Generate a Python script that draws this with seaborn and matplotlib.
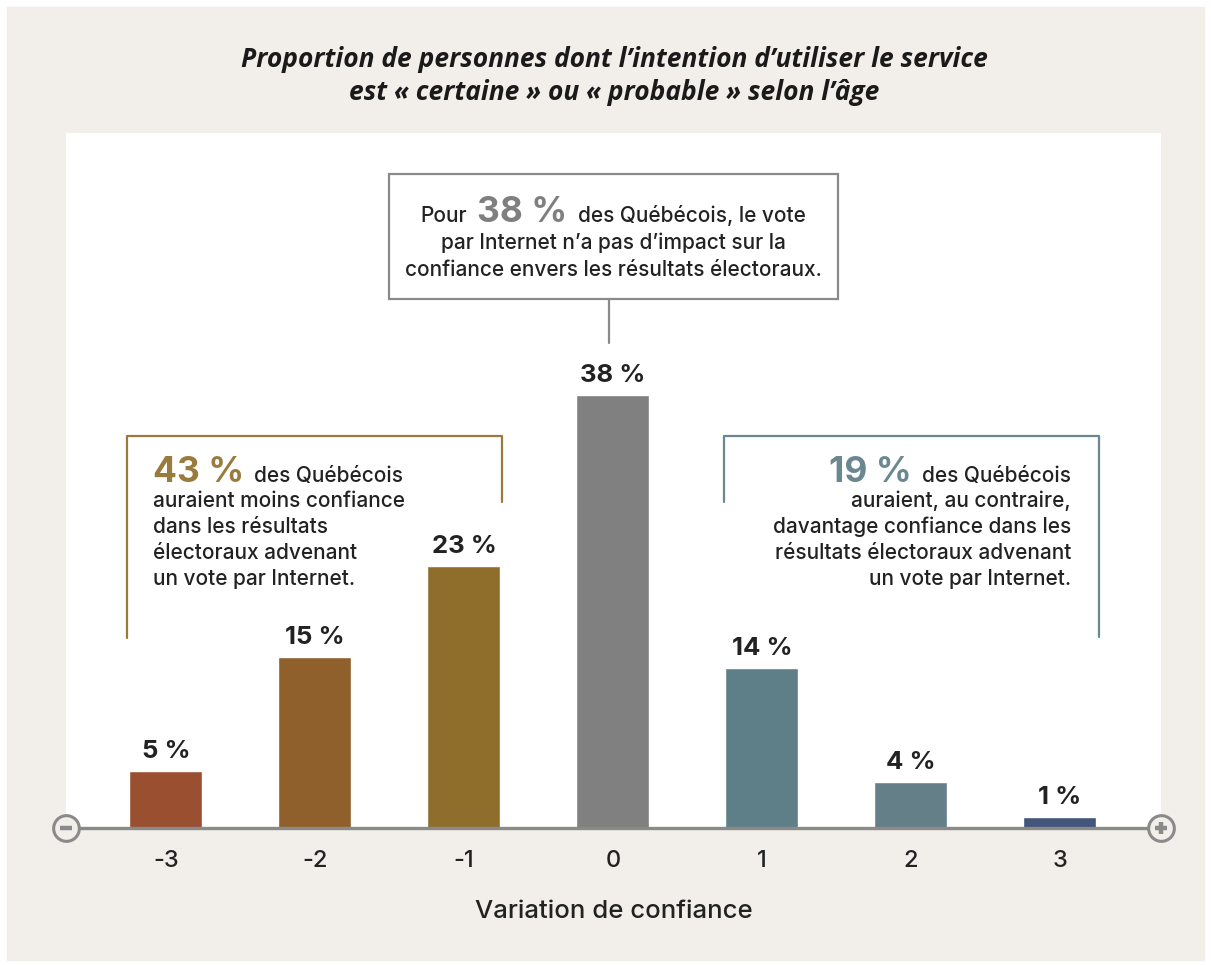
import matplotlib
matplotlib.use("Agg")
import matplotlib.pyplot as plt
import seaborn as sns
import pandas as pd
from matplotlib.lines import Line2D
from matplotlib.patches import Rectangle

# ---- data -----------------------------------------------------------------
categories = ["-3", "-2", "-1", "0", "1", "2", "3"]
values = [5, 15, 23, 38, 14, 4, 1]
bar_colors = ["#9a5030", "#8f602c", "#8f6e2c", "#808080",
              "#5e7f87", "#657f89", "#42557a"]

title = ("Proportion de personnes dont l\u2019intention d\u2019utiliser le service\n"
         "est \u00ab certaine \u00bb ou \u00ab probable \u00bb selon l\u2019\u00e2ge")
x_label = "Variation de confiance"

neutral_pct = "38 %"
neutral_lines = ["des Qu\u00e9b\u00e9cois, le vote",
                 "par Internet n\u2019a pas d\u2019impact sur la",
                 "confiance envers les r\u00e9sultats \u00e9lectoraux."]
less_pct = "43 %"
less_lines = ["des Qu\u00e9b\u00e9cois",
              "auraient moins confiance",
              "dans les r\u00e9sultats",
              "\u00e9lectoraux advenant",
              "un vote par Internet."]
more_pct = "19 %"
more_lines = ["des Qu\u00e9b\u00e9cois",
              "auraient, au contraire,",
              "davantage confiance dans les",
              "r\u00e9sultats \u00e9lectoraux advenant",
              "un vote par Internet."]

# ---- style ----------------------------------------------------------------
BEIGE = "#f2efea"
GREY = "#8a8a8a"
GOLD = "#9a7b3e"
SLATE = "#6b8790"
INK = "#222222"

sns.set_theme(style="white")
plt.rcParams["font.family"] = ["Inter", "DejaVu Sans"]

W, H = 1211, 965
fig = plt.figure(figsize=(W / 100, H / 100), dpi=100, facecolor="white")


def fx(x):
    return x / W


def fy(y):
    return (H - y) / H


# beige frame
fig.patches.append(Rectangle((fx(7), fy(960)), fx(1204) - fx(7), fy(7) - fy(960),
                             transform=fig.transFigure, color=BEIGE, zorder=-2))

# ---- bars -----------------------------------------------------------------
ax = fig.add_axes([fx(66), fy(828), fx(1161) - fx(66), fy(133) - fy(828)])
ax.set_facecolor("white")
df = pd.DataFrame({"variation": categories, "pct": values})
sns.barplot(data=df, x="variation", y="pct", hue="variation", order=categories,
            hue_order=categories, palette=bar_colors, saturation=1,
            width=0.49, legend=False, ax=ax)
ax.set_xlim(-0.671, 6.678)
ax.set_ylim(0, 61)
for s in ax.spines.values():
    s.set_visible(False)
ax.set_yticks([])
ax.set_ylabel("")
ax.tick_params(axis="x", length=0, pad=16, labelsize=17, labelcolor=INK)
for t in ax.get_xticklabels():
    t.set_fontweight("medium")
ax.set_xlabel(x_label, fontsize=18.5, color=INK, labelpad=20, fontweight="medium")

for i, v in enumerate(values):
    ax.annotate(f"{v} %", (i, v), xytext=(0, 13), textcoords="offset pixels",
                ha="center", va="baseline", fontsize=18.5, fontweight="bold",
                color=INK)

# axis line with minus / plus circles
ax.plot([0, 1], [0, 0], transform=ax.transAxes, color=GREY, lw=2.4,
        clip_on=False, zorder=5)
for xa, sym in [(0, "_"), (1, "+")]:
    ax.plot([xa], [0], transform=ax.transAxes, marker="o", ms=18.5,
            mfc=BEIGE, mec=GREY, mew=2.2, clip_on=False, zorder=6)
    ax.plot([xa], [0], transform=ax.transAxes, marker=sym, ms=9, mew=3.2,
            color=GREY, clip_on=False, zorder=7)

# ---- title ----------------------------------------------------------------
fig.text(fx(614), fy(76), title, ha="center", va="center", fontsize=19,
         fontweight="bold", fontstyle="italic", color="#1a1a1a", linespacing=1.25,
         family=["Open Sans", "DejaVu Sans"])


# ---- callouts -------------------------------------------------------------
def seg(xs, ys, color):
    fig.add_artist(Line2D([fx(x) for x in xs], [fy(y) for y in ys],
                          transform=fig.transFigure, color=color, lw=1.6))


def text_run(pieces, x, y, ha, gap=10):
    r = fig.canvas.get_renderer()
    objs = [fig.text(0, 0, s, ha="left", va="baseline", **kw) for s, kw in pieces]
    widths = [o.get_window_extent(r).width for o in objs]
    total = sum(widths) + gap * (len(objs) - 1)
    start = {"center": x - total / 2, "right": x - total, "left": x}[ha]
    for o, w in zip(objs, widths):
        o.set_position((fx(start), fy(y)))
        start += w + gap


body = dict(fontsize=15, fontweight="medium", color=INK)
big = dict(fontsize=25.5, fontweight="bold")

# centre box
fig.patches.append(Rectangle((fx(389), fy(299)), fx(838) - fx(389), fy(174) - fy(299),
                             transform=fig.transFigure, fc="white", ec=GREY,
                             lw=1.6, zorder=3))
seg([609, 609], [299, 343], GREY)
text_run([("Pour", body), (neutral_pct, dict(big, color="#7f7f7f")),
          (neutral_lines[0], body)], 613, 222, "center")
for k, line in enumerate(neutral_lines[1:]):
    fig.text(fx(613), fy(249 + 27 * k), line, ha="center", va="baseline", **body)

# left bracket
seg([127, 127, 502, 502], [638, 436, 436, 502], GOLD)
text_run([(less_pct, dict(big, color=GOLD)), (less_lines[0], body)], 153, 482, "left")
for k, line in enumerate(less_lines[1:]):
    fig.text(fx(153), fy(507 + 26 * k), line, ha="left", va="baseline", **body)

# right bracket
seg([724, 724, 1099, 1099], [502, 436, 436, 637], SLATE)
text_run([(more_pct, dict(big, color=SLATE)), (more_lines[0], body)], 1071, 482, "right")
for k, line in enumerate(more_lines[1:]):
    fig.text(fx(1071), fy(507 + 26 * k), line, ha="right", va="baseline", **body)

fig.savefig("out.png", dpi=100, facecolor="white")
